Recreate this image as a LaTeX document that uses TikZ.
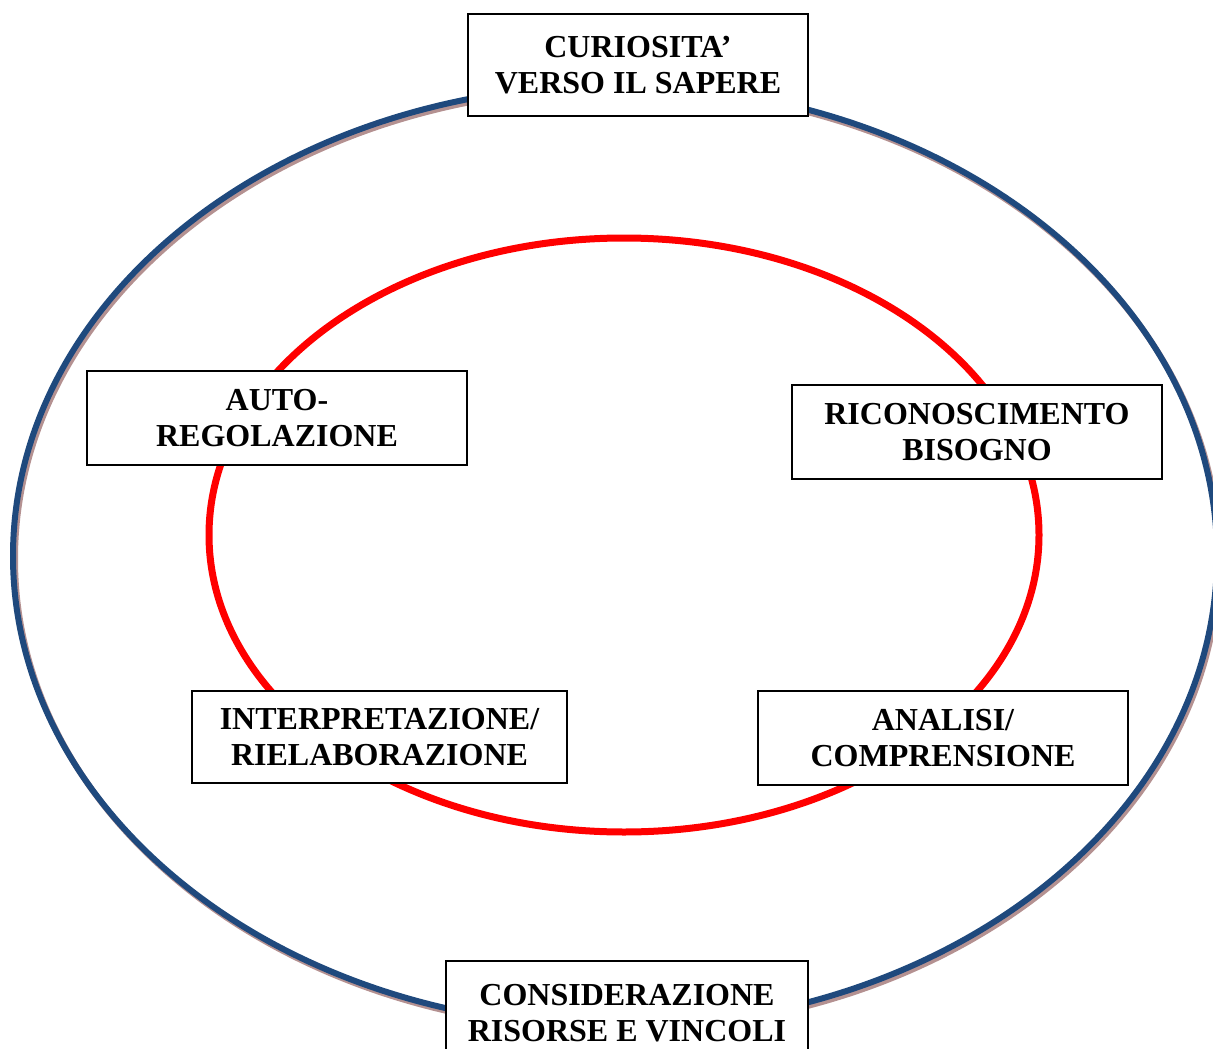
\documentclass[tikz,border=0pt]{standalone}
\usepackage{fontspec}
\setmainfont{Liberation Serif}
\definecolor{outerblue}{RGB}{31,73,125}
\definecolor{outershadow}{RGB}{180,145,145}
\definecolor{innerred}{RGB}{255,0,0}
\begin{document}
\begin{tikzpicture}[x=1pt,y=-1pt,
  lbl/.style={draw=black,line width=2pt,fill=white,align=center,inner sep=0pt,
    font=\fontsize{32}{36}\selectfont\bfseries}]
\useasboundingbox (0,0) rectangle (1213,1049);
% outer ellipse with shadow
\draw[outershadow,line width=6pt] (617,559) ellipse [x radius=602,y radius=471];
\draw[outerblue,line width=6pt] (615,556) ellipse [x radius=602,y radius=471];
% inner red ellipse
\draw[innerred,line width=7pt] (624,535) ellipse [x radius=415,y radius=297];
% boxes
\node[lbl,minimum width=340pt,minimum height=102pt] (cur) at (638,65) {CURIOSITA’\\VERSO IL SAPERE};
\node[lbl,minimum width=380pt,minimum height=94pt] (auto) at (277,418) {AUTO-\\REGOLAZIONE};
\node[lbl,minimum width=370pt,minimum height=94pt] (ric) at (977,432) {RICONOSCIMENTO\\BISOGNO};
\node[lbl,minimum width=375pt,minimum height=92pt] (int) at (379.5,737) {INTERPRETAZIONE/\\RIELABORAZIONE};
\node[lbl,minimum width=370pt,minimum height=94pt] (ana) at (943,738) {ANALISI/\\COMPRENSIONE};
\node[lbl,minimum width=362pt,minimum height=104pt] (cons) at (627,1013) {CONSIDERAZIONE\\RISORSE E VINCOLI};
\end{tikzpicture}
\end{document}
